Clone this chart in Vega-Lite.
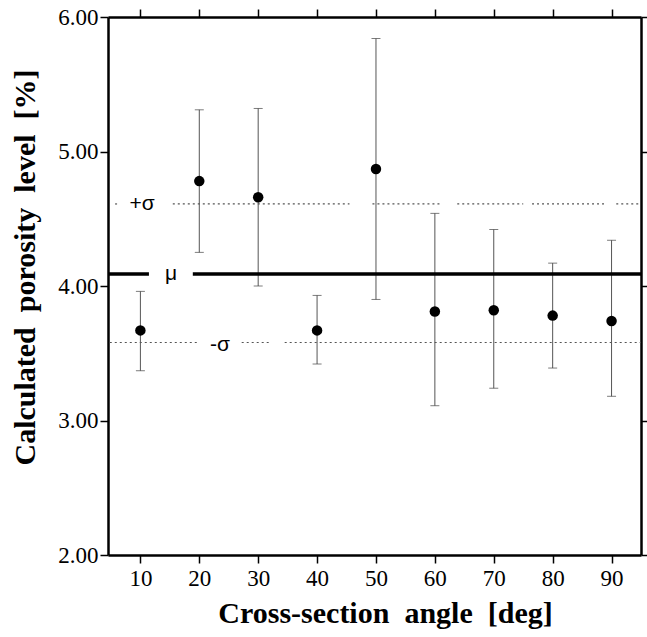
{
  "$schema": "https://vega.github.io/schema/vega-lite/v6.json",
  "autosize": {"type": "none"},
  "padding": {"left": 108, "top": 17, "right": 6, "bottom": 82},
  "width": 533,
  "height": 538,
  "background": "white",
  "config": {
    "view": {"stroke": null},
    "axis": {
      "grid": false,
      "domainColor": "black",
      "domainWidth": 2.5,
      "tickColor": "black",
      "tickWidth": 1.5,
      "tickSize": 8,
      "labelFont": "Liberation Serif",
      "labelFontSize": 23,
      "labelColor": "black",
      "titleFont": "Liberation Serif",
      "titleFontWeight": "bold",
      "titleFontSize": 30,
      "titleColor": "black"
    }
  },
  "datasets": {
    "pts": [
      {"angle": 10, "mean": 3.67, "lower": 3.37, "upper": 3.96},
      {"angle": 20, "mean": 4.78, "lower": 4.25, "upper": 5.31},
      {"angle": 30, "mean": 4.66, "lower": 4.0, "upper": 5.32},
      {"angle": 40, "mean": 3.67, "lower": 3.42, "upper": 3.93},
      {"angle": 50, "mean": 4.87, "lower": 3.9, "upper": 5.84},
      {"angle": 60, "mean": 3.81, "lower": 3.11, "upper": 4.54},
      {"angle": 70, "mean": 3.82, "lower": 3.24, "upper": 4.42},
      {"angle": 80, "mean": 3.78, "lower": 3.39, "upper": 4.17},
      {"angle": 90, "mean": 3.74, "lower": 3.18, "upper": 4.34}
    ],
    "lines": [
      {"kind": "mu", "x": 4.5, "x2": 11.45, "y": 4.09},
      {"kind": "mu", "x": 18.9, "x2": 95, "y": 4.09},
      {"kind": "sigma", "x": 5.7, "x2": 6.5, "y": 4.61},
      {"kind": "sigma", "x": 15.5, "x2": 45.5, "y": 4.61},
      {"kind": "sigma", "x": 49.4, "x2": 61.1, "y": 4.61},
      {"kind": "sigma", "x": 63.8, "x2": 75.0, "y": 4.61},
      {"kind": "sigma", "x": 76.5, "x2": 89.1, "y": 4.61},
      {"kind": "sigma", "x": 90.8, "x2": 95, "y": 4.61},
      {"kind": "sigma", "x": 4.8, "x2": 19.6, "y": 3.58},
      {"kind": "sigma", "x": 27.2, "x2": 32.0, "y": 3.58},
      {"kind": "sigma", "x": 34.5, "x2": 95, "y": 3.58}
    ],
    "labels": [
      {"text": "+σ", "x": 10.3, "y": 4.61},
      {"text": "μ", "x": 15.2, "y": 4.09},
      {"text": "-σ", "x": 23.5, "y": 3.56}
    ]
  },
  "resolve": {"axis": {"x": "independent", "y": "independent"}},
  "layer": [
    {
      "data": {"name": "pts"},
      "mark": {"type": "rule", "color": "#555", "strokeWidth": 1},
      "encoding": {
        "x": {
          "field": "angle", "type": "quantitative",
          "scale": {"domain": [4.5, 95], "nice": false, "zero": false},
          "axis": {
            "orient": "bottom",
            "values": [10, 20, 30, 40, 50, 60, 70, 80, 90],
            "labelPadding": 4,
            "title": "Cross-section\u2002angle\u2002[deg]",
            "titlePadding": 8,
            "titleX": 277
          }
        },
        "y": {
          "field": "lower", "type": "quantitative",
          "scale": {"domain": [2, 6], "nice": false, "zero": false},
          "axis": {
            "orient": "left",
            "values": [2, 3, 4, 5, 6],
            "format": ".2f",
            "labelPadding": 2,
            "title": "Calculated\u2002porosity\u2002level\u2002[%]",
            "titlePadding": 17,
            "titleY": 250
          }
        },
        "y2": {"field": "upper"}
      }
    },
    {
      "data": {"name": "pts"},
      "mark": {"type": "tick", "orient": "horizontal", "color": "#444", "size": 9, "thickness": 1},
      "encoding": {
        "x": {"field": "angle", "type": "quantitative", "axis": null},
        "y": {"field": "upper", "type": "quantitative", "axis": null}
      }
    },
    {
      "data": {"name": "pts"},
      "mark": {"type": "tick", "orient": "horizontal", "color": "#444", "size": 9, "thickness": 1},
      "encoding": {
        "x": {"field": "angle", "type": "quantitative", "axis": null},
        "y": {"field": "lower", "type": "quantitative", "axis": null}
      }
    },
    {
      "data": {"name": "lines"},
      "transform": [{"filter": "datum.kind === 'sigma'"}],
      "mark": {"type": "rule", "color": "#555", "strokeWidth": 1.2, "strokeDash": [2, 3]},
      "encoding": {
        "x": {"field": "x", "type": "quantitative", "axis": null},
        "x2": {"field": "x2"},
        "y": {"field": "y", "type": "quantitative", "axis": null}
      }
    },
    {
      "data": {"name": "lines"},
      "transform": [{"filter": "datum.kind === 'mu'"}],
      "mark": {"type": "rule", "color": "black", "strokeWidth": 3.5},
      "encoding": {
        "x": {"field": "x", "type": "quantitative", "axis": null},
        "x2": {"field": "x2"},
        "y": {"field": "y", "type": "quantitative", "axis": null}
      }
    },
    {
      "data": {"name": "labels"},
      "mark": {"type": "text", "font": "Liberation Sans", "fontSize": 21, "color": "black", "baseline": "middle", "align": "center"},
      "encoding": {
        "x": {"field": "x", "type": "quantitative", "axis": null},
        "y": {"field": "y", "type": "quantitative", "axis": null},
        "text": {"field": "text"}
      }
    },
    {
      "data": {"name": "pts"},
      "mark": {"type": "point", "filled": true, "color": "black", "size": 110, "opacity": 1},
      "encoding": {
        "x": {
          "field": "angle", "type": "quantitative",
          "axis": {"orient": "top", "values": [10, 20, 30, 40, 50, 60, 70, 80, 90], "labels": false, "title": null}
        },
        "y": {
          "field": "mean", "type": "quantitative",
          "axis": {"orient": "right", "values": [2, 3, 4, 5, 6], "labels": false, "title": null, "tickSize": 6}
        }
      }
    }
  ]
}
